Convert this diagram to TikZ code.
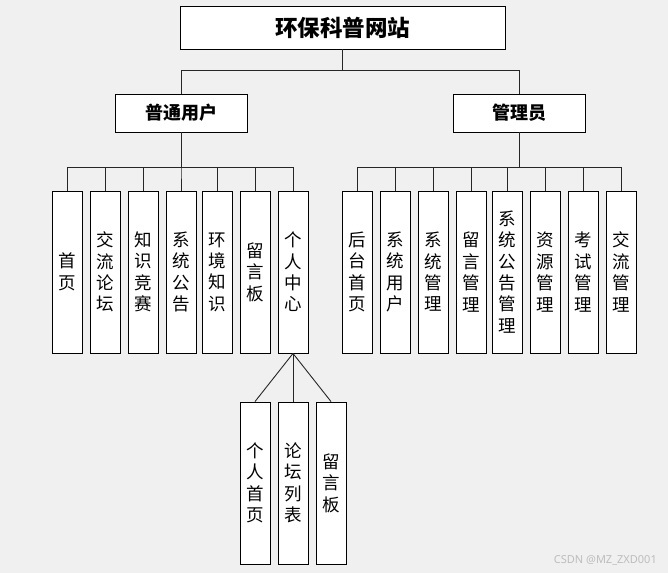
\documentclass[tikz,border=0pt]{standalone}
\usepackage{fontspec}
\setmainfont{Noto Sans CJK SC}
\newfontfamily\wmfont{Noto Sans}
\definecolor{bgc}{HTML}{F0F0F0}
\definecolor{wmc}{HTML}{BDBDBD}
\tikzset{
  box/.style={draw=black, fill=white, line width=0.9pt, inner sep=0pt},
  leaf/.style={box, minimum width=30pt, minimum height=162pt, align=center,
    font=\fontsize{17.5}{21.4}\selectfont},
  mid/.style={box, minimum width=132pt, minimum height=38pt, font=\fontsize{18}{20}\selectfont\bfseries},
  conn/.style={draw=black!85, line width=0.9pt}
}
\begin{document}
\begin{tikzpicture}[x=1pt,y=-1pt]
\fill[bgc] (0,0) rectangle (668,573);
\useasboundingbox (0,0) rectangle (668,573);
% root
\node[box, minimum width=325pt, minimum height=43pt, font=\fontsize{22.5}{24}\selectfont\bfseries] (root) at (342.5,27.5) {环保科普网站};
\node[mid] (user) at (181,113) {普通用户};
\node[mid] (admin) at (519,113) {管理员};
\coordinate (busR) at (0,70);
\coordinate (busB) at (0,167);
% user leaves
\node[leaf] (u1) at (67,272) {首\\页};
\node[leaf] (u2) at (105,272) {交\\流\\论\\坛};
\node[leaf] (u3) at (143,272) {知\\识\\竞\\赛};
\node[leaf] (u4) at (181,272) {系\\统\\公\\告};
\node[leaf] (u5) at (217,272) {环\\境\\知\\识};
\node[leaf] (u6) at (255,272) {留\\言\\板};
\node[leaf] (u7) at (293,272) {个\\人\\中\\心};
% admin leaves
\node[leaf] (a1) at (357,272) {后\\台\\首\\页};
\node[leaf] (a2) at (395,272) {系\\统\\用\\户};
\node[leaf] (a3) at (433,272) {系\\统\\管\\理};
\node[leaf] (a4) at (471,272) {留\\言\\管\\理};
\node[leaf] (a5) at (507,272) {系\\统\\公\\告\\管\\理};
\node[leaf] (a6) at (545,272) {资\\源\\管\\理};
\node[leaf] (a7) at (583,272) {考\\试\\管\\理};
\node[leaf] (a8) at (621,272) {交\\流\\管\\理};
% personal center children
\node[leaf] (s1) at (255,483) {个\\人\\首\\页};
\node[leaf] (s2) at (293,483) {论\\坛\\列\\表};
\node[leaf] (s3) at (331,483) {留\\言\\板};
% connectors
\draw[conn] (root.south) -- (root.south |- busR) -| (user.north);
\draw[conn] (root.south |- busR) -| (admin.north);
\foreach \c in {u1,u2,u3,u4,u5,u6,u7}{
  \draw[conn] (user.south) -- (user.south |- busB) -| (\c.north);
}
\foreach \c in {a1,a2,a3,a4,a5,a6,a7,a8}{
  \draw[conn] (admin.south) -- (admin.south |- busB) -| (\c.north);
}
\foreach \c in {s1,s2,s3}{
  \draw[conn] (u7.south) -- (\c.north);
}
% watermark
\node[text=wmc, font=\wmfont\fontsize{11}{12}\selectfont, anchor=east, inner sep=0pt] (wm) at (657,560) {CSDN @MZ\_ZXD001};
\end{tikzpicture}
\end{document}
